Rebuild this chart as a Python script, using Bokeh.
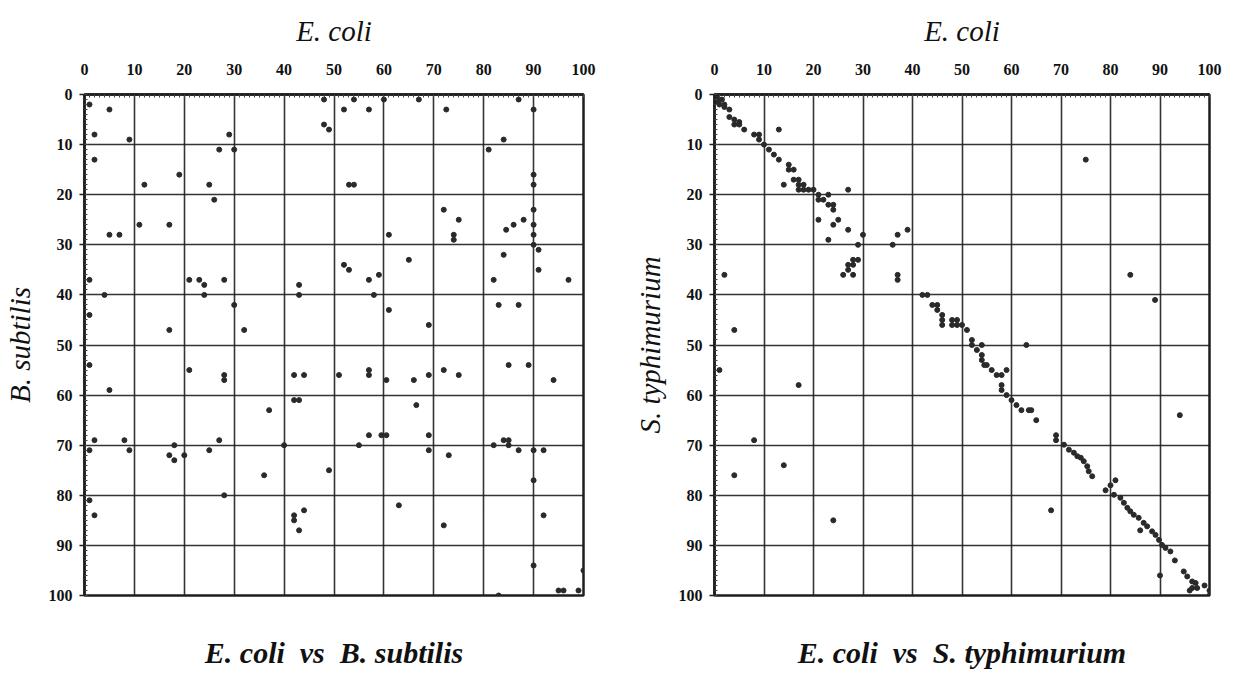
from bokeh.plotting import figure
from bokeh.layouts import row
from bokeh.models import Range1d, FixedTicker, LinearAxis
from bokeh.embed import file_html
from bokeh.resources import INLINE

# ---------------- data ----------------
TICKS = [0, 10, 20, 30, 40, 50, 60, 70, 80, 90, 100]
X_TITLE = "E. coli"
LEFT_YLABEL = "B. subtilis"
RIGHT_YLABEL = "S. typhimurium"
LEFT_CAPTION = "E. coli\u00a0 vs\u00a0 B. subtilis"
RIGHT_CAPTION = "E. coli\u00a0 vs\u00a0 S. typhimurium"

# E. coli position (x) vs B. subtilis position (y)
bsub_x = [1, 5, 2, 9, 2, 12, 19, 11, 17, 5, 7, 1, 4, 1, 17, 21, 23, 24, 24, 28, 30, 32, 43, 43,
          25, 26, 27, 29, 30, 48, 48, 49,
          54, 52, 57, 60, 67, 72.5, 87, 90, 84, 81, 53, 54, 90, 90, 90, 90, 90, 90, 91, 91, 97,
          72, 75, 74, 74, 84.5, 86, 88, 61, 84, 82, 83, 87, 52, 53, 57, 59, 58, 65, 61, 69,
          1, 5, 21, 28, 28, 42, 44, 42, 43, 37, 2, 1, 8, 9, 17, 18, 18, 20, 25, 27, 28, 40,
          36, 49, 1, 2, 42, 42, 44, 43,
          51, 57, 57, 60.5, 66, 69, 72, 75, 85, 89, 94, 66.5, 57, 59.5, 60.5, 55, 69, 69, 73,
          82, 84, 85, 85, 87, 90, 92, 90, 63, 72, 92, 90, 100, 95, 96, 99, 83]
bsub_y = [2, 3, 8, 9, 13, 18, 16, 26, 26, 28, 28, 37, 40, 44, 47, 37, 37, 38, 40, 37, 42, 47, 38, 40,
          18, 21, 11, 8, 11, 1, 6, 7,
          1, 3, 3, 1, 1, 3, 1, 3, 9, 11, 18, 18, 16, 18, 23, 26, 28, 30, 31, 35, 37,
          23, 25, 28, 29, 27, 26, 25, 28, 32, 37, 42, 42, 34, 35, 37, 36, 40, 33, 43, 46,
          54, 59, 55, 56, 57, 56, 56, 61, 61, 63, 69, 71, 69, 71, 72, 70, 73, 72, 71, 69, 80, 70,
          76, 75, 81, 84, 84, 85, 83, 87,
          56, 55, 56, 57, 57, 56, 55, 56, 54, 54, 57, 62, 68, 68, 68, 70, 68, 71, 72,
          70, 69, 69, 70, 71, 71, 71, 77, 82, 86, 84, 94, 95, 99, 99, 99, 100]

# E. coli position (x) vs S. typhimurium position (y)
styph_x = [0.5, 1, 0.5, 1, 1.5, 2, 2, 3, 3, 4, 5, 4, 5, 6, 8, 9, 9, 10, 11, 12, 13, 13,
           15, 15, 16, 14, 16, 17, 17, 18, 18, 19, 17, 20, 21, 21, 22, 23, 23, 24, 24, 27,
           21, 25, 24, 27, 23, 30, 29, 29, 28, 28, 27, 27, 26, 28, 36, 37, 39, 37, 37, 2, 4,
           42, 43, 44, 45, 45, 46, 46, 46, 48, 48, 49, 49, 50,
           75, 84, 89, 51, 52, 52, 54, 63,
           53, 54, 54, 54.5, 55, 56, 57, 58, 59, 58, 58, 59, 60, 61, 62, 63.5, 64, 65, 94,
           69, 69, 70.6, 71.6, 72.6, 73.3, 74, 74.6, 75.3, 75.6, 76.3, 68, 81, 80, 79,
           80.7, 82, 82.7, 83.4, 84, 84.7, 85.7, 86.7, 87.4, 88.4, 89.1, 89.8, 90.4, 91.1, 92.1,
           86, 93, 90, 94.8, 95.5, 96.5, 97.2, 96.5, 97.5, 99, 100, 100, 96,
           1, 17, 8, 4, 14, 24]
styph_y = [0.5, 1, 1.5, 2, 1, 2.5, 2, 3, 4.5, 5, 5.5, 6, 6, 7, 8, 8, 9, 10, 11, 12, 13, 7,
           14, 15, 15, 18, 17, 17, 18, 18, 19, 19, 19, 19, 20, 21, 21, 20, 22, 22, 23, 19,
           25, 25, 26, 27, 29, 28, 30, 33, 33, 34, 34, 35, 36, 36, 30, 28, 27, 36, 37, 36, 47,
           40, 40, 42, 42, 43, 44, 45, 46, 45, 46, 45, 46, 46,
           13, 36, 41, 47, 49, 50, 50, 50,
           51, 52, 53, 54, 54, 55, 56, 56, 55, 58, 59, 60, 61, 62, 63, 63, 63, 65, 64,
           68, 69, 69.9, 70.9, 71.5, 72.2, 72.5, 73.2, 74.2, 75.2, 76.2, 83, 77, 78, 79,
           79.9, 80.5, 81.5, 82.5, 83.2, 83.9, 84.5, 85.5, 86.2, 87.2, 87.9, 88.9, 89.9, 90.5, 91.2,
           87, 93, 96, 95.2, 96.2, 97.2, 97.5, 98.5, 98.5, 98, 99, 100, 99,
           55, 58, 69, 76, 74, 85]

SERIF = "Liberation Serif"
SANS = "Liberation Sans Narrow"
INK = "#1e1e1e"


def make(xs, ys, ylabel, caption, width, border_left, border_right):
    p = figure(width=width, height=679,
               x_range=Range1d(0, 100), y_range=Range1d(100, 0),
               x_axis_location="above", y_axis_location="left",
               output_backend="svg", toolbar_location=None,
               min_border_left=border_left, min_border_right=border_right,
               min_border_top=94, min_border_bottom=84)
    p.background_fill_color = "white"
    p.border_fill_color = "white"
    p.outline_line_color = INK
    p.outline_line_width = 2.5

    ticker = FixedTicker(ticks=TICKS, minor_ticks=list(range(0, 101)))
    for ax in (p.xaxis[0], p.yaxis[0]):
        ax.ticker = ticker
        ax.axis_line_color = INK
        ax.axis_line_width = 2.5
        ax.major_tick_line_color = INK
        ax.major_tick_line_width = 1.5
        ax.minor_tick_line_color = "#444444"
        ax.minor_tick_line_width = 1
        ax.minor_tick_in = 3
        ax.minor_tick_out = 0
        ax.major_label_text_font = SANS
        ax.major_label_text_font_style = "bold"
        ax.major_label_text_font_size = "16px"
        ax.major_label_text_color = "#111111"
        ax.axis_label_text_font = SERIF
        ax.axis_label_text_font_style = "italic"
        ax.axis_label_text_font_size = "29px"
        ax.axis_label_text_color = "#111111"

    p.xaxis[0].axis_label = X_TITLE
    p.xaxis[0].major_tick_in = 0
    p.xaxis[0].major_tick_out = 0
    p.xaxis[0].major_label_standoff = 20
    p.xaxis[0].axis_label_standoff = 14

    p.yaxis[0].axis_label = ylabel
    p.yaxis[0].major_tick_in = 0
    p.yaxis[0].major_tick_out = 5
    p.yaxis[0].major_label_standoff = 7
    p.yaxis[0].axis_label_standoff = 10
    p.yaxis[0].major_label_orientation = "horizontal"

    for g in (p.xgrid[0], p.ygrid[0]):
        g.ticker = FixedTicker(ticks=TICKS)
        g.grid_line_color = INK
        g.grid_line_width = 1.6
        g.grid_line_alpha = 0.9

    p.scatter(xs, ys, size=5, marker="circle", fill_color="#2a2a2a",
              line_color="#2a2a2a")

    # caption below the frame, carried by an otherwise invisible axis
    cap = LinearAxis(ticker=FixedTicker(ticks=[]), axis_label=caption,
                     axis_line_alpha=0, major_tick_in=0, major_tick_out=0,
                     minor_tick_in=0, minor_tick_out=0,
                     major_label_text_font_size="0px",
                     axis_label_standoff=40,
                     axis_label_text_font=SERIF,
                     axis_label_text_font_style="bold italic",
                     axis_label_text_font_size="30px",
                     axis_label_text_color="#111111")
    p.add_layout(cap, "below")
    return p


left = make(bsub_x, bsub_y, LEFT_YLABEL, LEFT_CAPTION, 620, 84, 37)
right = make(styph_x, styph_y, RIGHT_YLABEL, RIGHT_CAPTION, 613, 94, 24)

layout = row(left, right)
open("out.html", "w").write(file_html(layout, INLINE))
